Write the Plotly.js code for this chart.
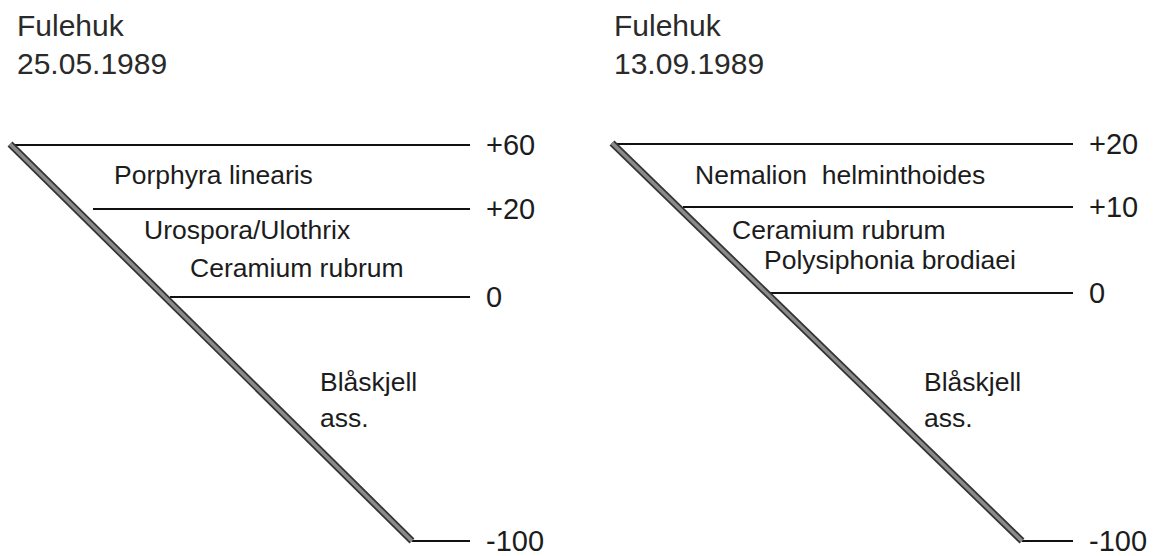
<!DOCTYPE html>
<html>
<head>
<meta charset="utf-8">
<script src="https://cdn.plot.ly/plotly-3.0.1.min.js"></script>
<style>html,body{margin:0;padding:0;background:#fff;}#chart{width:1163px;height:556px;}</style>
</head>
<body>
<div id="chart"></div>
<script>
// ---- Panel A: Fulehuk 25.05.1989 ----
const titleA = ['Fulehuk', '25.05.1989'];
const levelLabelsA = ['+60', '+20', '0', '-100'];
const levelYA = [145, 209, 297, 541];        // vertical position of each level in the sketch
const levelStartA = [10, 93, 170, 412];      // where each level line leaves the shore profile
const levelEndA = 470;
const profileXA = [10, 412];
const profileYA = [144, 541];
const zoneNamesA = ['Porphyra linearis', 'Urospora/Ulothrix', 'Ceramium rubrum', 'Blåskjell', 'ass.'];
const zoneXA = [112, 142, 188, 318, 318];
const zoneYA = [175, 230, 268, 382, 418];

// ---- Panel B: Fulehuk 13.09.1989 ----
const titleB = ['Fulehuk', '13.09.1989'];
const levelLabelsB = ['+20', '+10', '0', '-100'];
const levelYB = [144, 207, 293, 541];
const levelStartB = [612, 683, 770, 1022];
const levelEndB = 1073;
const profileXB = [612, 1022];
const profileYB = [143, 541];
const zoneNamesB = ['Nemalion&nbsp; helminthoides', 'Ceramium rubrum', 'Polysiphonia brodiaei', 'Blåskjell', 'ass.'];
const zoneXB = [693, 730, 762, 922, 922];
const zoneYB = [175, 230, 260, 382, 418];

const titleX = [15, 612];
const titleY = [25, 63];

const FONT = 'Liberation Sans, Arial, Helvetica, sans-serif';
const TEXT = '#1c1c1c';
const traces = [];
const annotations = [];

function addPanel(levelLabels, levelY, levelStart, levelEnd, profX, profY, zoneNames, zoneX, zoneY, title, tx) {
  // level lines
  for (let i = 0; i < levelY.length; i++) {
    traces.push({
      type: 'scatter', mode: 'lines',
      x: [levelStart[i], levelEnd], y: [levelY[i], levelY[i]],
      line: {color: '#111', width: 2}, hoverinfo: 'skip', showlegend: false
    });
    annotations.push({
      x: levelEnd + 15, y: levelY[i], xref: 'x', yref: 'y',
      text: levelLabels[i], showarrow: false, xanchor: 'left', yanchor: 'middle',
      borderpad: 0,
      font: {family: FONT, size: 29, color: TEXT}
    });
  }
  // shore profile (thick grey line with dark edges)
  traces.push({
    type: 'scatter', mode: 'lines', x: profX, y: profY,
    line: {color: '#333', width: 7}, hoverinfo: 'skip', showlegend: false
  });
  traces.push({
    type: 'scatter', mode: 'lines', x: profX, y: profY,
    line: {color: '#8a8a8a', width: 3.5}, hoverinfo: 'skip', showlegend: false
  });
  // zone labels
  for (let i = 0; i < zoneNames.length; i++) {
    annotations.push({
      x: zoneX[i], y: zoneY[i], xref: 'x', yref: 'y',
      text: zoneNames[i], showarrow: false, xanchor: 'left', yanchor: 'middle',
      font: {family: FONT, size: 26.5, color: TEXT}
    });
  }
  // title
  for (let i = 0; i < title.length; i++) {
    annotations.push({
      x: tx, y: titleY[i], xref: 'x', yref: 'y',
      text: title[i], showarrow: false, xanchor: 'left', yanchor: 'middle',
      font: {family: FONT, size: 30, color: '#2a2a2a'}
    });
  }
}

addPanel(levelLabelsA, levelYA, levelStartA, levelEndA, profileXA, profileYA, zoneNamesA, zoneXA, zoneYA, titleA, titleX[0]);
addPanel(levelLabelsB, levelYB, levelStartB, levelEndB, profileXB, profileYB, zoneNamesB, zoneXB, zoneYB, titleB, titleX[1]);

const layout = {
  width: 1163, height: 556,
  margin: {l: 0, r: 0, t: 0, b: 0},
  paper_bgcolor: '#fff', plot_bgcolor: '#fff',
  xaxis: {range: [0, 1163], visible: false, fixedrange: true},
  yaxis: {range: [556, 0], visible: false, fixedrange: true},
  annotations: annotations,
  showlegend: false
};

Plotly.newPlot('chart', traces, layout, {displayModeBar: false, staticPlot: true});
</script>
</body>
</html>
